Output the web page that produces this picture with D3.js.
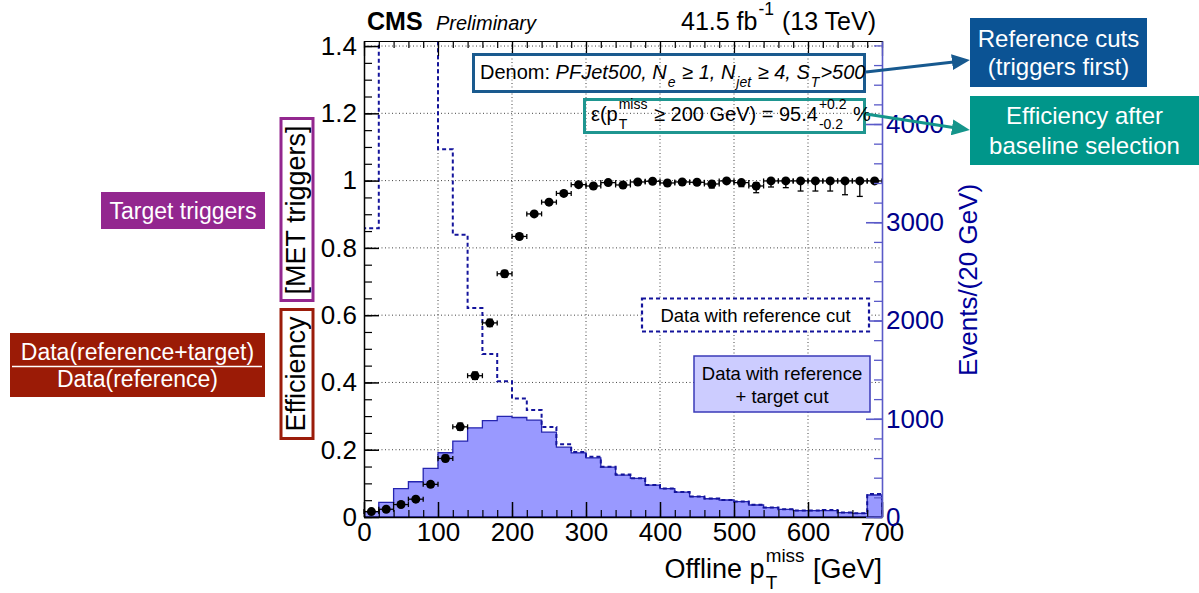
<!DOCTYPE html>
<html lang="en">
<head>
<meta charset="UTF-8">
<title>MET trigger efficiency</title>
<script src="https://d3js.org/d3.v7.min.js"></script>
<style>
  body { margin: 0; background: #fff; }
  svg text { font-family: "Liberation Sans", Arial, Helvetica, sans-serif; white-space: pre; }
  .grid line { stroke: #444; stroke-width: 1; stroke-dasharray: 1,2.5; }
</style>
</head>
<body>
<svg id="chart" width="1199" height="593"></svg>
<script>

// bin centres of the 20 GeV bins (GeV)
const binCenters = [10, 30, 50, 70, 90, 110, 130, 150, 170, 190, 210, 230, 250, 270, 290,
  310, 330, 350, 370, 390, 410, 430, 450, 470, 490, 510, 530, 550, 570, 590,
  610, 630, 650, 670, 690];

// events passing reference + target (filled histogram)
const passCounts = [54, 149, 288, 359, 495, 654, 773, 908, 980, 1024, 1013, 986, 863, 711, 653,
  602, 508, 426, 393, 325, 288, 254, 207, 186, 173, 156, 122, 95, 78, 64,
  64, 64, 44, 37, 224];

// events passing reference only (dashed histogram)
const refCounts = [2940, 6480, 7780, 6770, 5100, 3744, 2873, 2127, 1659, 1381, 1207, 1088, 917, 741, 661,
  612, 511, 432, 395, 326, 290, 255, 208, 188, 174, 157, 124, 97, 80, 66,
  66, 70, 45, 38, 234];

// trigger efficiency and asymmetric errors
const effValues = [0.016, 0.023, 0.037, 0.053, 0.097, 0.174, 0.268, 0.42, 0.577, 0.723,
  0.834, 0.901, 0.936, 0.962, 0.988, 0.984, 0.994, 0.987, 0.996, 0.998,
  0.993, 0.996, 0.995, 0.99, 0.999, 0.994, 0.984, 0.999, 0.999, 0.999,
  0.999, 0.999, 0.999, 0.999, 0.999];
const effErrLo = [0.004, 0.004, 0.005, 0.006, 0.007, 0.009, 0.01, 0.011, 0.011, 0.01,
  0.008, 0.007, 0.006, 0.005, 0.004, 0.004, 0.003, 0.004, 0.003, 0.003,
  0.004, 0.004, 0.005, 0.012, 0.005, 0.012, 0.02, 0.018, 0.02, 0.03,
  0.03, 0.03, 0.041, 0.046, 0.003];
const effErrHi = [0.005, 0.005, 0.006, 0.007, 0.008, 0.01, 0.011, 0.011, 0.011, 0.01,
  0.008, 0.007, 0.006, 0.005, 0.004, 0.004, 0.003, 0.004, 0.003, 0.002,
  0.004, 0.003, 0.004, 0.006, 0.001, 0.005, 0.01, 0.001, 0.001, 0.001,
  0.001, 0.001, 0.001, 0.001, 0.001];

const xTicks = [0, 100, 200, 300, 400, 500, 600, 700];
const effTicks = [0, 0.2, 0.4, 0.6, 0.8, 1, 1.2, 1.4];
const effTickLabels = ["0", "0.2", "0.4", "0.6", "0.8", "1", "1.2", "1.4"];
const eventTicks = [0, 1000, 2000, 3000, 4000];

const svg = d3.select("#chart");

// scales
const x = d3.scaleLinear().domain([0, 700]).range([364, 882]);
const yEff = d3.scaleLinear().domain([0, 1.415]).range([517, 41]);
const yEv = d3.scaleLinear().domain([0, 4845]).range([517, 41]);

// text with stacked sub/superscripts, ROOT style
function rich(parent, x0, y0, size, parts, anchor, fill) {
  const g = parent.append("g").attr("fill", fill || "#000");
  const small = size * 0.7;
  let cx = 0;
  parts.forEach(p => {
    if (p.t !== undefined) {
      const t = g.append("text").attr("x", cx).attr("y", 0)
        .attr("font-size", size).attr("font-style", p.i ? "italic" : null).text(p.t);
      cx += t.node().getComputedTextLength();
    } else {
      let w = 0;
      if (p.sup) {
        const t = g.append("text").attr("x", cx + 1).attr("y", -size * 0.6)
          .attr("font-size", small).attr("font-style", p.i ? "italic" : null).text(p.sup);
        w = Math.max(w, t.node().getComputedTextLength());
      }
      if (p.sub) {
        const t = g.append("text").attr("x", cx + 1).attr("y", size * 0.42)
          .attr("font-size", small).attr("font-style", p.i ? "italic" : null).text(p.sub);
        w = Math.max(w, t.node().getComputedTextLength());
      }
      cx += w + 2;
    }
  });
  const left = anchor === "end" ? x0 - cx : anchor === "middle" ? x0 - cx / 2 : x0;
  g.attr("transform", `translate(${left},${y0})`);
  return g;
}

// grid
svg.append("g").attr("class", "grid")
  .selectAll("line").data(xTicks.slice(1, -1)).join("line")
  .attr("x1", d => x(d)).attr("x2", d => x(d))
  .attr("y1", yEff.range()[1]).attr("y2", yEff.range()[0]);
svg.append("g").attr("class", "grid")
  .selectAll("line").data(effTicks.slice(1)).join("line")
  .attr("x1", x.range()[0]).attr("x2", x.range()[1])
  .attr("y1", d => yEff(d)).attr("y2", d => yEff(d));

// histograms
svg.append("clipPath").attr("id", "frame")
  .append("rect").attr("x", 364).attr("y", 41).attr("width", 518).attr("height", 476);

function stepPts(vals) {
  const pts = [[0, 0]];
  vals.forEach((v, i) => {
    pts.push([binCenters[i] - 10, v]);
    pts.push([binCenters[i] + 10, v]);
  });
  pts.push([700, 0]);
  return pts;
}
const histLine = d3.line().x(d => x(d[0])).y(d => yEv(d[1]));

const hists = svg.append("g").attr("clip-path", "url(#frame)");
hists.append("path")
  .attr("d", histLine(stepPts(passCounts)) + "Z")
  .attr("fill", "#9999ff")
  .attr("stroke", "#2525b0")
  .attr("stroke-width", 1.3);
hists.append("path")
  .attr("d", histLine(stepPts(refCounts)))
  .attr("fill", "none")
  .attr("stroke", "#14149c")
  .attr("stroke-width", 2)
  .attr("stroke-dasharray", "4,3");

// efficiency points
const pts = svg.append("g").attr("stroke", "#000").attr("stroke-width", 1.3);
binCenters.forEach((c, i) => {
  const cy = yEff(effValues[i]);
  const xl = x(c - 10), xr = x(c + 10);
  pts.append("line").attr("x1", xl).attr("x2", xr).attr("y1", cy).attr("y2", cy);
  pts.append("line").attr("x1", xl).attr("x2", xl).attr("y1", cy - 2.5).attr("y2", cy + 2.5);
  pts.append("line").attr("x1", xr).attr("x2", xr).attr("y1", cy - 2.5).attr("y2", cy + 2.5);
  const yl = yEff(effValues[i] - effErrLo[i]), yh = yEff(effValues[i] + effErrHi[i]);
  pts.append("line").attr("x1", x(c)).attr("x2", x(c)).attr("y1", yh).attr("y2", yl);
  pts.append("line").attr("x1", x(c) - 3).attr("x2", x(c) + 3).attr("y1", yl).attr("y2", yl);
  pts.append("line").attr("x1", x(c) - 3).attr("x2", x(c) + 3).attr("y1", yh).attr("y2", yh);
});
pts.selectAll("circle").data(binCenters).join("circle")
  .attr("cx", d => x(d))
  .attr("cy", (d, i) => yEff(effValues[i]))
  .attr("r", 4.5)
  .attr("fill", "#000")
  .attr("stroke", "none");

// axes
function styleAxis(g, size, width) {
  g.attr("font-size", size).attr("font-family", null);
  g.selectAll("line").attr("stroke-width", width);
  g.select(".domain").attr("stroke-width", width);
}

svg.append("g").attr("transform", "translate(364,0)")
  .call(d3.axisLeft(yEff).tickValues(d3.range(0, 1.41, 0.05)).tickSize(-8).tickFormat(""))
  .call(g => g.select(".domain").remove())
  .call(g => styleAxis(g, 10, 1.2));
svg.append("g").attr("transform", "translate(364,0)")
  .call(d3.axisLeft(yEff).tickValues(effTicks).tickFormat((d, i) => effTickLabels[i])
    .tickSizeInner(-15).tickSizeOuter(0).tickPadding(7))
  .call(g => styleAxis(g, 26, 1.5));

svg.append("g").attr("transform", "translate(0,517)")
  .call(d3.axisBottom(x).tickValues(d3.range(0, 701, 20)).tickSize(-7).tickFormat(""))
  .call(g => g.select(".domain").remove())
  .call(g => styleAxis(g, 10, 1.2));
svg.append("g").attr("transform", "translate(0,517)")
  .call(d3.axisBottom(x).tickValues(xTicks).tickSizeInner(-15).tickSizeOuter(0).tickPadding(6))
  .call(g => styleAxis(g, 26, 1.5));

svg.append("g").attr("transform", "translate(0,41)")
  .call(d3.axisTop(x).tickValues(d3.range(0, 701, 20)).tickSize(-7).tickFormat(""))
  .call(g => g.select(".domain").remove())
  .call(g => styleAxis(g, 10, 1.2));
svg.append("g").attr("transform", "translate(0,41)")
  .call(d3.axisTop(x).tickValues(xTicks).tickSizeInner(-15).tickSizeOuter(0).tickFormat(""))
  .call(g => styleAxis(g, 10, 1.2));

// right axis (events)
svg.append("g").attr("transform", "translate(882,0)").attr("color", "#5a5ac8")
  .call(d3.axisRight(yEv).tickValues(d3.range(0, 4801, 200)).tickSize(-8).tickFormat(""))
  .call(g => g.select(".domain").remove())
  .call(g => styleAxis(g, 10, 1.3));
svg.append("g").attr("transform", "translate(882,0)").attr("color", "#5a5ac8")
  .call(d3.axisRight(yEv).tickValues(eventTicks).tickFormat(d3.format("d"))
    .tickSizeInner(-16).tickSizeOuter(0).tickPadding(4))
  .call(g => styleAxis(g, 26, 1.6))
  .call(g => g.selectAll("text").attr("fill", "#00008b"));

// axis titles
rich(svg, 882, 578, 27, [{t: "Offline p"}, {sup: "miss", sub: "T"}, {t: " [GeV]"}], "end");

svg.append("text").attr("transform", "translate(305,374) rotate(-90)")
  .attr("text-anchor", "middle").attr("font-size", 27).text("Efficiency");
svg.append("text").attr("transform", "translate(305,210) rotate(-90)")
  .attr("text-anchor", "middle").attr("font-size", 27).text("[MET triggers]");
svg.append("rect").attr("x", 281).attr("y", 118.5).attr("width", 32).attr("height", 182)
  .attr("fill", "none").attr("stroke", "#93278f").attr("stroke-width", 3);
svg.append("rect").attr("x", 281).attr("y", 309.5).attr("width", 32).attr("height", 129)
  .attr("fill", "none").attr("stroke", "#9b1c0a").attr("stroke-width", 3);

svg.append("text").attr("transform", "translate(977,280) rotate(-90)")
  .attr("text-anchor", "middle").attr("font-size", 26).attr("fill", "#000099")
  .text("Events/(20 GeV)");

// header
svg.append("text").attr("x", 367).attr("y", 30).attr("font-size", 25)
  .attr("font-weight", "bold").text("CMS");
svg.append("text").attr("x", 436).attr("y", 30).attr("font-size", 20)
  .attr("font-style", "italic").text("Preliminary");
rich(svg, 876, 30, 25, [{t: "41.5 fb"}, {sup: "-1"}, {t: " (13 TeV)"}], "end");

// in-plot legends
svg.append("rect").attr("x", 642).attr("y", 298.5).attr("width", 227).attr("height", 33)
  .attr("fill", "#fff").attr("stroke", "#14149c").attr("stroke-width", 2.2)
  .attr("stroke-dasharray", "4,3");
svg.append("text").attr("x", 755.5).attr("y", 321.5).attr("text-anchor", "middle")
  .attr("font-size", 18.5).text("Data with reference cut");

svg.append("rect").attr("x", 694).attr("y", 356).attr("width", 176).attr("height", 56)
  .attr("fill", "#ccccff").attr("stroke", "#3a3ab8").attr("stroke-width", 1.5);
svg.append("text").attr("x", 782).attr("y", 380).attr("text-anchor", "middle")
  .attr("font-size", 18.5).text("Data with reference");
svg.append("text").attr("x", 782).attr("y", 403).attr("text-anchor", "middle")
  .attr("font-size", 18.5).text("+ target cut");

// selection boxes
svg.append("rect").attr("x", 473.5).attr("y", 54.5).attr("width", 391).attr("height", 37)
  .attr("fill", "none").attr("stroke", "#1a5a8e").attr("stroke-width", 3);
rich(svg, 480, 79, 20, [
  {t: "Denom: "}, {t: "PFJet500, N", i: true}, {sub: "e", i: true},
  {t: " ≥ 1, N", i: true}, {sub: "jet", i: true}, {t: " ≥ 4, S", i: true},
  {sub: "T", i: true}, {t: ">500", i: true}]);

svg.append("rect").attr("x", 584.5).attr("y", 99.5).attr("width", 280).attr("height", 33)
  .attr("fill", "none").attr("stroke", "#1f9690").attr("stroke-width", 3);
rich(svg, 591, 121, 20, [
  {t: "ε(p"}, {sup: "miss", sub: "T"}, {t: " ≥ 200 GeV) = 95.4"},
  {sup: "+0.2", sub: "-0.2"}, {t: " %"}]);

// arrows
const defs = svg.append("defs");
[["headBlue", "#17598f"], ["headTeal", "#14958b"]].forEach(([id, c]) => {
  defs.append("marker").attr("id", id).attr("markerUnits", "userSpaceOnUse")
    .attr("markerWidth", 18).attr("markerHeight", 16).attr("refX", 6).attr("refY", 8)
    .attr("orient", "auto")
    .append("path").attr("d", "M0,0 L18,8 L0,16 Z").attr("fill", c);
});
svg.append("line").attr("x1", 866).attr("y1", 72).attr("x2", 958).attr("y2", 61.4)
  .attr("stroke", "#17598f").attr("stroke-width", 3).attr("marker-end", "url(#headBlue)");
svg.append("line").attr("x1", 866).attr("y1", 114).attr("x2", 958).attr("y2", 128.2)
  .attr("stroke", "#14958b").attr("stroke-width", 3).attr("marker-end", "url(#headTeal)");

// callout boxes
function callout(x0, y0, w, h, fill, lines, size, lineGap) {
  svg.append("rect").attr("x", x0).attr("y", y0).attr("width", w).attr("height", h).attr("fill", fill);
  lines.forEach((l, i) => {
    svg.append("text").attr("x", x0 + w / 2).attr("y", y0 + h / 2 - (lines.length - 1) * lineGap / 2 + i * lineGap + size * 0.36)
      .attr("text-anchor", "middle").attr("font-size", size).attr("fill", "#fff").text(l);
  });
}
callout(970, 18, 177, 69, "#0b5394", ["Reference cuts", "(triggers first)"], 24, 28);
callout(970, 96, 229, 69, "#00968a", ["Efficiency after", "baseline selection"], 24, 30);
callout(101, 192, 164, 37, "#93278f", ["Target triggers"], 23, 0);

svg.append("rect").attr("x", 10).attr("y", 333).attr("width", 255).attr("height", 64).attr("fill", "#9b1b06");
svg.append("text").attr("x", 137.5).attr("y", 360).attr("text-anchor", "middle")
  .attr("font-size", 23).attr("fill", "#fff").text("Data(reference+target)");
svg.append("line").attr("x1", 12).attr("x2", 262).attr("y1", 366.5).attr("y2", 366.5)
  .attr("stroke", "#fff").attr("stroke-width", 1.5);
svg.append("text").attr("x", 137.5).attr("y", 387).attr("text-anchor", "middle")
  .attr("font-size", 23).attr("fill", "#fff").text("Data(reference)");

</script>
</body>
</html>
